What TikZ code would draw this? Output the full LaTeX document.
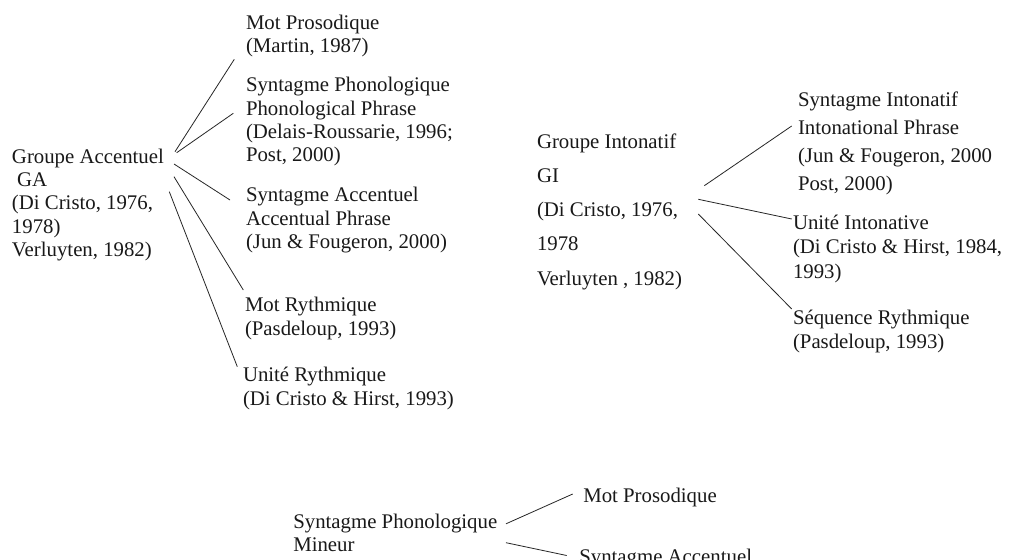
\documentclass[tikz,border=0pt]{standalone}
\usepackage{fontspec}
\setmainfont{Liberation Serif}
\begin{document}
\begin{tikzpicture}[x=1pt,y=-1pt,
  lbl/.style={anchor=north west, inner sep=0pt, outer sep=0pt, align=left, text=black!90,
              font=\fontsize{20.8}{23.3}\selectfont},
  conn/.style={line width=0.8pt, draw=black!85}]
\useasboundingbox[fill=white] (0,0) rectangle (1024,559);

% ---- Groupe Accentuel tree
\node[lbl] (ga) at (12,147.0) {\strut Groupe Accentuel\\\strut\hspace*{5.2pt}GA\\\strut (Di Cristo, 1976,\\\strut 1978)\\\strut Verluyten, 1982)};
\node[lbl] (mp) at (246,13.0) {\strut Mot Prosodique\\\strut (Martin, 1987)};
\node[lbl] (sp) at (246,75.4) {\strut Syntagme Phonologique\\\strut Phonological Phrase\\\strut (Delais-Roussarie, 1996;\\\strut Post, 2000)};
\node[lbl] (sa) at (246,185.4) {\strut Syntagme Accentuel\\\strut Accentual Phrase\\\strut (Jun \& Fougeron, 2000)};
\node[lbl] (mr) at (245,295.4) {\strut Mot Rythmique\\\strut (Pasdeloup, 1993)};
\node[lbl] (ur) at (243,365.4) {\strut Unité Rythmique\\\strut (Di Cristo \& Hirst, 1993)};

\draw[conn] ([shift={(163,4.7)}]ga.north west) -- ([shift={(-11.7,46.3)}]mp.north west);
\draw[conn] ([shift={(164.7,5.7)}]ga.north west) -- ([shift={(-12.7,37.9)}]sp.north west);
\draw[conn] ([shift={(162,17)}]ga.north west) -- ([shift={(-16,14.6)}]sa.north west);
\draw[conn] ([shift={(162,29.7)}]ga.north west) -- ([shift={(-1.7,-5.4)}]mr.north west);
\draw[conn] ([shift={(157.3,44.7)}]ga.north west) -- ([shift={(-5.7,1.3)}]ur.north west);

% ---- Groupe Intonatif tree
\node[lbl, font=\fontsize{20.8}{34.2}\selectfont] (gi) at (537,124.4) {\strut Groupe Intonatif\\\strut GI\\\strut (Di Cristo, 1976,\\\strut 1978\\\strut Verluyten , 1982)};
\node[lbl, font=\fontsize{20.8}{27.7}\selectfont] (si) at (798,87.6) {\strut Syntagme Intonatif\\\strut Intonational Phrase\\\strut (Jun \& Fougeron, 2000\\\strut Post, 2000)};
\node[lbl, font=\fontsize{20.8}{24.5}\selectfont] (ui) at (793,211.85) {\strut Unité Intonative\\\strut (Di Cristo \& Hirst, 1984,\\\strut 1993)};
\node[lbl, font=\fontsize{20.8}{24.5}\selectfont] (sr) at (793,306.85) {\strut Séquence Rythmique\\\strut (Pasdeloup, 1993)};

\draw[conn] ([shift={(167.3,61.3)}]gi.north west) -- ([shift={(-6.3,38.4)}]si.north west);
\draw[conn] ([shift={(161.3,74.9)}]gi.north west) -- ([shift={(-1.3,7.15)}]ui.north west);
\draw[conn] ([shift={(161.3,89.6)}]gi.north west) -- ([shift={(-1.3,2.15)}]sr.north west);

% ---- Syntagme Phonologique Mineur tree
\node[lbl] (spm) at (293.3,511.7) {\strut Syntagme Phonologique\\\strut Mineur};
\node[lbl] (mpb) at (583.3,486.2) {\strut Mot Prosodique};
\node[lbl] (sab) at (579.3,547.5) {\strut Syntagme Accentuel};

\draw[conn] ([shift={(212.7,12.1)}]spm.north west) -- ([shift={(-10.6,7.8)}]mpb.north west);
\draw[conn] ([shift={(212.7,31)}]spm.north west) -- ([shift={(-12.6,8)}]sab.north west);
\end{tikzpicture}
\end{document}
